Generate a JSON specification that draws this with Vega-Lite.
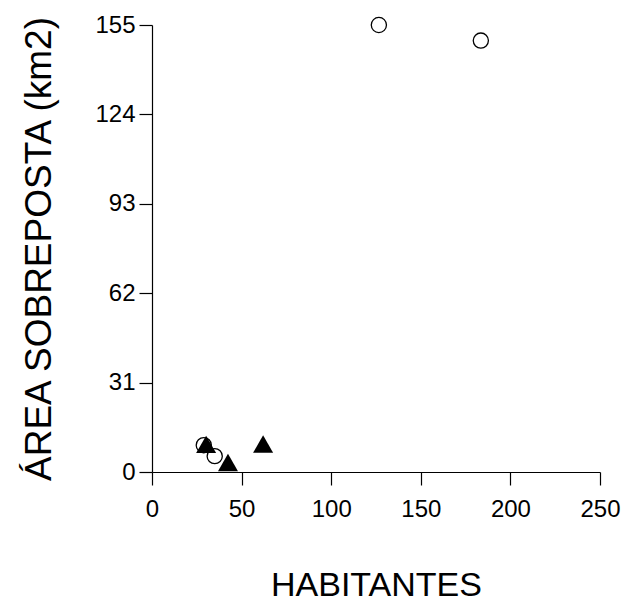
{
  "$schema": "https://vega.github.io/schema/vega-lite/v6.json",
  "autosize": {"type": "none"},
  "padding": {"left": 152, "top": 25, "right": 25, "bottom": 131},
  "width": 448,
  "height": 447,
  "background": "white",
  "config": {
    "view": {"stroke": null},
    "axis": {
      "grid": false,
      "domainColor": "black",
      "domainWidth": 1.2,
      "tickColor": "black",
      "tickWidth": 1.2,
      "tickSize": 13,
      "labelFont": "Liberation Sans",
      "labelFontSize": 24,
      "labelColor": "black",
      "titleFont": "Liberation Sans",
      "titleFontWeight": "normal",
      "titleColor": "black"
    }
  },
  "data": {
    "values": [
      {"habitantes": 126.6, "area": 155.0, "grupo": "circulo"},
      {"habitantes": 183.5, "area": 149.6, "grupo": "circulo"},
      {"habitantes": 28.9, "area": 9.3, "grupo": "circulo"},
      {"habitantes": 35.0, "area": 5.5, "grupo": "circulo"},
      {"habitantes": 30.2, "area": 9.6, "grupo": "triangulo"},
      {"habitantes": 42.4, "area": 3.3, "grupo": "triangulo"},
      {"habitantes": 62.0, "area": 9.7, "grupo": "triangulo"}
    ]
  },
  "encoding": {
    "x": {
      "field": "habitantes", "type": "quantitative",
      "scale": {"domain": [0, 250], "nice": false, "zero": false},
      "axis": {"values": [0, 50, 100, 150, 200, 250], "title": "HABITANTES", "titleFontSize": 34, "titlePadding": 47, "labelPadding": 12, "labelFlush": false, "labelOverlap": false}
    },
    "y": {
      "field": "area", "type": "quantitative",
      "scale": {"domain": [0, 155], "nice": false, "zero": false},
      "axis": {"values": [0, 31, 62, 93, 124, 155], "title": "ÁREA SOBREPOSTA (km2)", "titleFontSize": 37, "titlePadding": 36, "labelPadding": 4, "labelFlush": false, "labelOverlap": false}
    }
  },
  "layer": [
    {
      "transform": [{"filter": "datum.grupo === 'circulo'"}],
      "mark": {"type": "point", "shape": "circle", "filled": false, "stroke": "black", "strokeWidth": 1.3, "size": 230, "opacity": 1}
    },
    {
      "transform": [{"filter": "datum.grupo === 'triangulo'"}],
      "mark": {"type": "point", "shape": "triangle-up", "filled": true, "fill": "black", "size": 400, "opacity": 1}
    }
  ]
}
